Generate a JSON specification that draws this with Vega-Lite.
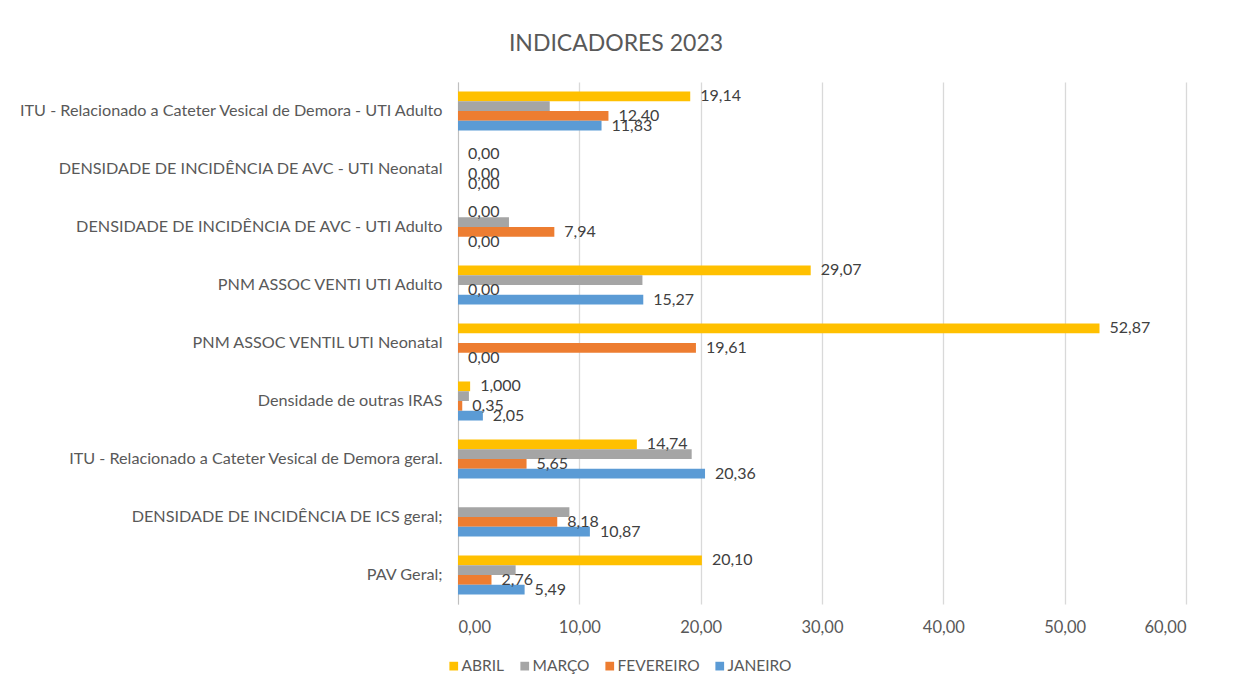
{
  "$schema": "https://vega.github.io/schema/vega-lite/v6.json",
  "width": 728,
  "height": 522,
  "autosize": {"type": "none"},
  "padding": {"left": 458, "top": 82, "right": 48, "bottom": 82},
  "background": "white",
  "config": {
    "locale": {"number": {"decimal": ",", "thousands": ".", "grouping": [3], "currency": ["R$", ""]}},
    "font": "Lato",
    "view": {"stroke": null}
  },
  "title": {
    "text": "INDICADORES 2023",
    "fontSize": 23,
    "fontWeight": "normal",
    "color": "#595959",
    "font": "Lato",
    "anchor": "middle",
    "frame": "group",
    "dx": -206,
    "baseline": "bottom",
    "offset": 3
  },
  "data": {
    "values": [
      {"ind": "ITU - Relacionado a Cateter Vesical de Demora - UTI Adulto", "mes": "ABRIL", "v": 19.14, "lbl": "19,14"},
      {"ind": "ITU - Relacionado a Cateter Vesical de Demora - UTI Adulto", "mes": "MARÇO", "v": 7.56},
      {"ind": "ITU - Relacionado a Cateter Vesical de Demora - UTI Adulto", "mes": "FEVEREIRO", "v": 12.40, "lbl": "12,40"},
      {"ind": "ITU - Relacionado a Cateter Vesical de Demora - UTI Adulto", "mes": "JANEIRO", "v": 11.83, "lbl": "11,83"},
      {"ind": "DENSIDADE DE INCIDÊNCIA DE AVC - UTI Neonatal", "mes": "ABRIL", "v": 0, "lbl": "0,00"},
      {"ind": "DENSIDADE DE INCIDÊNCIA DE AVC - UTI Neonatal", "mes": "MARÇO", "v": 0},
      {"ind": "DENSIDADE DE INCIDÊNCIA DE AVC - UTI Neonatal", "mes": "FEVEREIRO", "v": 0, "lbl": "0,00"},
      {"ind": "DENSIDADE DE INCIDÊNCIA DE AVC - UTI Neonatal", "mes": "JANEIRO", "v": 0, "lbl": "0,00"},
      {"ind": "DENSIDADE DE INCIDÊNCIA DE AVC - UTI Adulto", "mes": "ABRIL", "v": 0, "lbl": "0,00"},
      {"ind": "DENSIDADE DE INCIDÊNCIA DE AVC - UTI Adulto", "mes": "MARÇO", "v": 4.2},
      {"ind": "DENSIDADE DE INCIDÊNCIA DE AVC - UTI Adulto", "mes": "FEVEREIRO", "v": 7.94, "lbl": "7,94"},
      {"ind": "DENSIDADE DE INCIDÊNCIA DE AVC - UTI Adulto", "mes": "JANEIRO", "v": 0, "lbl": "0,00"},
      {"ind": "PNM ASSOC VENTI UTI Adulto", "mes": "ABRIL", "v": 29.07, "lbl": "29,07"},
      {"ind": "PNM ASSOC VENTI UTI Adulto", "mes": "MARÇO", "v": 15.2},
      {"ind": "PNM ASSOC VENTI UTI Adulto", "mes": "FEVEREIRO", "v": 0, "lbl": "0,00"},
      {"ind": "PNM ASSOC VENTI UTI Adulto", "mes": "JANEIRO", "v": 15.27, "lbl": "15,27"},
      {"ind": "PNM ASSOC VENTIL UTI Neonatal", "mes": "ABRIL", "v": 52.87, "lbl": "52,87"},
      {"ind": "PNM ASSOC VENTIL UTI Neonatal", "mes": "FEVEREIRO", "v": 19.61, "lbl": "19,61"},
      {"ind": "PNM ASSOC VENTIL UTI Neonatal", "mes": "JANEIRO", "v": 0, "lbl": "0,00"},
      {"ind": "Densidade de outras IRAS", "mes": "ABRIL", "v": 1.0, "lbl": "1,000"},
      {"ind": "Densidade de outras IRAS", "mes": "MARÇO", "v": 0.9},
      {"ind": "Densidade de outras IRAS", "mes": "FEVEREIRO", "v": 0.35, "lbl": "0,35"},
      {"ind": "Densidade de outras IRAS", "mes": "JANEIRO", "v": 2.05, "lbl": "2,05"},
      {"ind": "ITU - Relacionado a Cateter Vesical de Demora geral.", "mes": "ABRIL", "v": 14.74, "lbl": "14,74"},
      {"ind": "ITU - Relacionado a Cateter Vesical de Demora geral.", "mes": "MARÇO", "v": 19.26},
      {"ind": "ITU - Relacionado a Cateter Vesical de Demora geral.", "mes": "FEVEREIRO", "v": 5.65, "lbl": "5,65"},
      {"ind": "ITU - Relacionado a Cateter Vesical de Demora geral.", "mes": "JANEIRO", "v": 20.36, "lbl": "20,36"},
      {"ind": "DENSIDADE DE INCIDÊNCIA DE ICS geral;", "mes": "MARÇO", "v": 9.18},
      {"ind": "DENSIDADE DE INCIDÊNCIA DE ICS geral;", "mes": "FEVEREIRO", "v": 8.18, "lbl": "8,18"},
      {"ind": "DENSIDADE DE INCIDÊNCIA DE ICS geral;", "mes": "JANEIRO", "v": 10.87, "lbl": "10,87"},
      {"ind": "PAV Geral;", "mes": "ABRIL", "v": 20.10, "lbl": "20,10"},
      {"ind": "PAV Geral;", "mes": "MARÇO", "v": 4.75},
      {"ind": "PAV Geral;", "mes": "FEVEREIRO", "v": 2.76, "lbl": "2,76"},
      {"ind": "PAV Geral;", "mes": "JANEIRO", "v": 5.49, "lbl": "5,49"}
    ]
  },
  "encoding": {
    "y": {
      "field": "ind",
      "type": "nominal",
      "sort": [
        "ITU - Relacionado a Cateter Vesical de Demora - UTI Adulto",
        "DENSIDADE DE INCIDÊNCIA DE AVC - UTI Neonatal",
        "DENSIDADE DE INCIDÊNCIA DE AVC - UTI Adulto",
        "PNM ASSOC VENTI UTI Adulto",
        "PNM ASSOC VENTIL UTI Neonatal",
        "Densidade de outras IRAS",
        "ITU - Relacionado a Cateter Vesical de Demora geral.",
        "DENSIDADE DE INCIDÊNCIA DE ICS geral;",
        "PAV Geral;"
      ],
      "scale": {"paddingInner": 0.327, "paddingOuter": 0.1635},
      "axis": {
        "title": null,
        "ticks": false,
        "labelPadding": 16,
        "labelFontSize": 16.2,
        "labelColor": "#595959",
        "labelLimit": 500,
        "domainColor": "#BFBFBF",
        "domainWidth": 1,
        "grid": false
      }
    },
    "yOffset": {
      "field": "mes",
      "type": "nominal",
      "sort": ["ABRIL", "MARÇO", "FEVEREIRO", "JANEIRO"],
      "scale": {"paddingInner": 0, "paddingOuter": 0}
    },
    "x": {
      "field": "v",
      "type": "quantitative",
      "scale": {"domain": [0, 60], "nice": false},
      "axis": {
        "title": null,
        "format": ".2f",
        "values": [0, 10, 20, 30, 40, 50, 60],
        "ticks": false,
        "domain": false,
        "labelPadding": 15,
        "labelFontSize": 16.5,
        "labelColor": "#595959",
        "gridColor": "#D9D9D9",
        "gridWidth": 1.3
      }
    }
  },
  "layer": [
    {
      "mark": {"type": "bar"},
      "encoding": {
        "color": {
          "field": "mes",
          "type": "nominal",
          "scale": {
            "domain": ["ABRIL", "MARÇO", "FEVEREIRO", "JANEIRO"],
            "range": ["#FFC000", "#A5A5A5", "#ED7D31", "#5B9BD5"]
          },
          "legend": {
            "title": null,
            "orient": "none",
            "direction": "horizontal",
            "legendX": -12,
            "legendY": 576,
            "symbolType": "square",
            "symbolSize": 76,
            "symbolStrokeWidth": 0,
            "labelFontSize": 15.5,
            "labelColor": "#595959",
            "labelOffset": 0,
            "columnPadding": 12,
            "padding": 0
          }
        }
      }
    },
    {
      "transform": [{"filter": "isValid(datum.lbl)"}],
      "mark": {"type": "text", "align": "left", "baseline": "middle", "dx": 10, "fontSize": 16, "color": "#404040"},
      "encoding": {
        "text": {"field": "lbl", "type": "nominal"}
      }
    }
  ]
}
